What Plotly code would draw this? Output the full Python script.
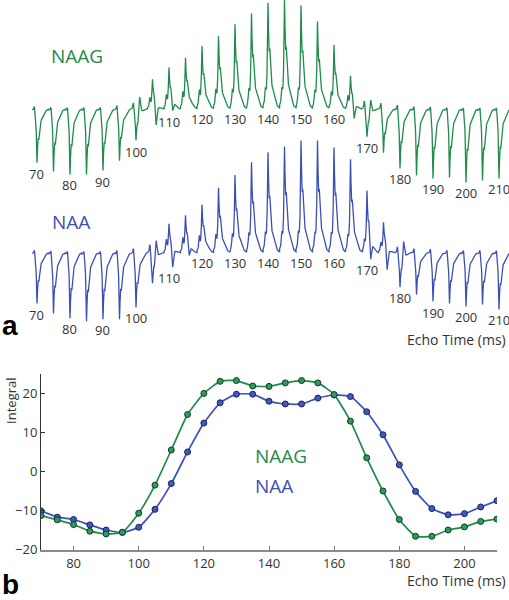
import numpy as np
import plotly.graph_objects as go

# ---------------- data ----------------
echo_times = [70, 75, 80, 85, 90, 95, 100, 105, 110, 115, 120, 125, 130, 135, 140,
              145, 150, 155, 160, 165, 170, 175, 180, 185, 190, 195, 200, 205, 210]

naag_integral = [-11.2, -12.3, -13.5, -15.2, -15.9, -15.5, -10.6, -3.4, 5.6, 14.7, 20.1,
                 23.2, 23.4, 22.0, 21.9, 22.8, 23.4, 22.8, 19.8, 13.0, 3.6, -4.9, -12.2,
                 -16.5, -16.5, -14.9, -14.1, -12.7, -12.1]
naa_integral = [-10.0, -11.6, -12.2, -13.6, -14.9, -15.5, -14.2, -9.6, -3.0, 5.1, 12.5,
                17.7, 19.9, 19.9, 18.1, 17.4, 17.4, 18.9, 19.7, 19.3, 15.4, 9.5, 1.8,
                -5.0, -9.4, -11.0, -10.7, -9.0, -7.4]

# spectrum: signed peak height per echo time, opposite-phase feature, small left peak
naag_peak = [-55, -64, -67, -67, -63, -53, -34, 31, 42, 51, 63, 73, 85, 96, 107,
             110, 104, 88, 64, 34, -30, -45, -61, -68, -71, -70, -75, -73, -71]
naag_dispersive = [0, 0, 0, 0, 0, 0, 20, -24, -12, 0, 0, 0, 0, 0, 0,
                   0, 0, 0, 0, -18, 16, 0, 0, 0, 0, 0, 0, 0, 0]
naag_left = [6, 6, 6, 6, 6, 7, 8, 10, 12, 14, 15, 15, 14, 14, 14,
             14, 14, 13, 13, 12, 10, 9, 8, 7, 7, 6, 6, 6, 6]

naa_peak = [-52, -62, -67, -70, -68, -68, -56, -33, 30, 38, 48, 65, 78, 91, 101,
            107, 113, 113, 106, 94, 64, 32, -37, -43, -50, -52, -55, -53, -58]
naa_dispersive = [0, 0, 0, 0, 0, 0, 0, 20, -22, -12, 0, 0, 0, 0, 0,
                  0, 0, 0, 0, 0, -22, -25, 20, 0, 0, 0, 0, 0, 0]
naa_left = [6, 6, 6, 6, 6, 7, 8, 10, 12, 13, 14, 14, 14, 14, 14,
            14, 14, 13, 13, 12, 10, 9, 8, 7, 7, 6, 6, 6, 6]

label_times = [70, 80, 90, 100, 110, 120, 130, 140, 150, 160, 170, 180, 190, 200, 210]

GREEN = "#1f8b4d"
BLUE = "#3c50b4"
TXT = "#333333"
FONT = "Open Sans"

# ---------------- spectrum line shape ----------------
u = np.linspace(-1.5, 3.5, 141)


def lor(c, w):
    return w * w / ((u - c) ** 2 + w * w)


shape = lor(0.0, 0.2) + 0.45 * lor(0.55, 0.3) + 0.15 * np.exp(-((u - 1.4) / 1.0) ** 2)
shape = shape / shape.max()


def build(peak, disp, left, base):
    xs, ys, mins = [], [], {}
    for t, a, d, l in zip(echo_times, peak, disp, left):
        y = base + a * shape + d * lor(1.1, 0.3) + l * lor(-0.8, 0.2)
        xs.extend((t + u).tolist())
        ys.extend(y.tolist())
        mins[t] = float(y.min())
    return xs, ys, mins


naag_x, naag_y, naag_min = build(naag_peak, naag_dispersive, naag_left, -105.5)
naa_x, naa_y, naa_min = build(naa_peak, naa_dispersive, naa_left, -251.5)

fig = go.Figure()

fig.add_trace(go.Scatter(x=naag_x, y=naag_y, mode="lines", xaxis="x2", yaxis="y2",
                         line=dict(color=GREEN, width=1.3), hoverinfo="skip"))
fig.add_trace(go.Scatter(x=naa_x, y=naa_y, mode="lines", xaxis="x2", yaxis="y2",
                         line=dict(color=BLUE, width=1.3), hoverinfo="skip"))

# ---------------- integral plot ----------------
fig.add_trace(go.Scatter(x=echo_times, y=naa_integral, mode="lines+markers",
                         line=dict(color=BLUE, width=1.7, shape="spline", smoothing=0.5),
                         marker=dict(size=6, color="#4058c4",
                                     line=dict(color="#1b2454", width=1))))
fig.add_trace(go.Scatter(x=echo_times, y=naag_integral, mode="lines+markers",
                         line=dict(color=GREEN, width=1.7, shape="spline", smoothing=0.5),
                         marker=dict(size=6, color="#2b9d5a",
                                     line=dict(color="#143a24", width=1))))

annotations = []
for t in label_times:
    annotations.append(dict(x=t, y=naag_min[t], xref="x2", yref="y2", text=str(t),
                            showarrow=False, yanchor="top", yshift=0,
                            font=dict(family=FONT, size=13, color=TXT)))
    annotations.append(dict(x=t, y=naa_min[t], xref="x2", yref="y2", text=str(t),
                            showarrow=False, yanchor="top", yshift=0,
                            font=dict(family=FONT, size=13, color=TXT)))


def pa(text, x, y, xanchor="left", size=19, color=TXT, bold=False, angle=0):
    annotations.append(dict(x=x, y=y, xref="paper", yref="paper", text=text,
                            showarrow=False, xanchor=xanchor, yanchor="middle",
                            textangle=angle,
                            font=dict(family="Liberation Sans" if bold else FONT,
                                      size=size, color=color)))


pa("NAAG", 49 / 509, 1 - 57 / 600, size=19, color=GREEN)
pa("NAA", 50 / 509, 1 - 225 / 600, size=19, color=BLUE)
pa("Echo Time (ms)", 508 / 509, 1 - 345 / 600, xanchor="right", size=14)
pa("<b>a</b>", 0, 1 - 330 / 600, size=28, color="#000000", bold=True)
pa("<b>b</b>", 0, 1 - 593 / 600, size=28, color="#000000", bold=True)
pa("Integral", 11 / 509, 1 - 407 / 600, xanchor="center", size=13, angle=-90)
pa("Echo Time (ms)", 508 / 509, 1 - 589 / 600, xanchor="right", size=14)
pa("NAAG", 253 / 509, 1 - 463 / 600, size=19, color=GREEN)
pa("NAA", 253 / 509, 1 - 493 / 600, size=19, color=BLUE)

fig.update_layout(
    width=509, height=600,
    margin=dict(l=0, r=0, t=0, b=0),
    paper_bgcolor="white", plot_bgcolor="white",
    showlegend=False,
    annotations=annotations,
    xaxis=dict(domain=[41 / 509, 497 / 509], anchor="y", range=[70, 210],
               tickvals=[80, 100, 120, 140, 160, 180, 200],
               ticks="inside", ticklen=4, tickcolor="#777777", tickwidth=1,
               showline=True, linecolor="#8a8a8a", linewidth=2,
               showgrid=False, zeroline=False,
               tickfont=dict(family=FONT, size=13, color=TXT)),
    yaxis=dict(domain=[1 - 558.3 / 600, 1 - 380 / 600], anchor="x", range=[-20, 25],
               tickvals=[-20, -10, 0, 10, 20],
               ticks="inside", ticklen=4, tickcolor="#333333", tickwidth=1,
               showline=True, linecolor="#333333", linewidth=1,
               showgrid=False, zeroline=False,
               tickfont=dict(family=FONT, size=13, color=TXT)),
    xaxis2=dict(domain=[0, 1], anchor="y2", range=[58.79, 213.03], visible=False),
    yaxis2=dict(domain=[1 - 350 / 600, 1], anchor="x2", range=[-345, 5], visible=False),
)

fig.write_html("out.html", config={"displayModeBar": False},
               post_script="document.body.style.margin='0';"
                           "document.body.style.overflow='hidden';")
